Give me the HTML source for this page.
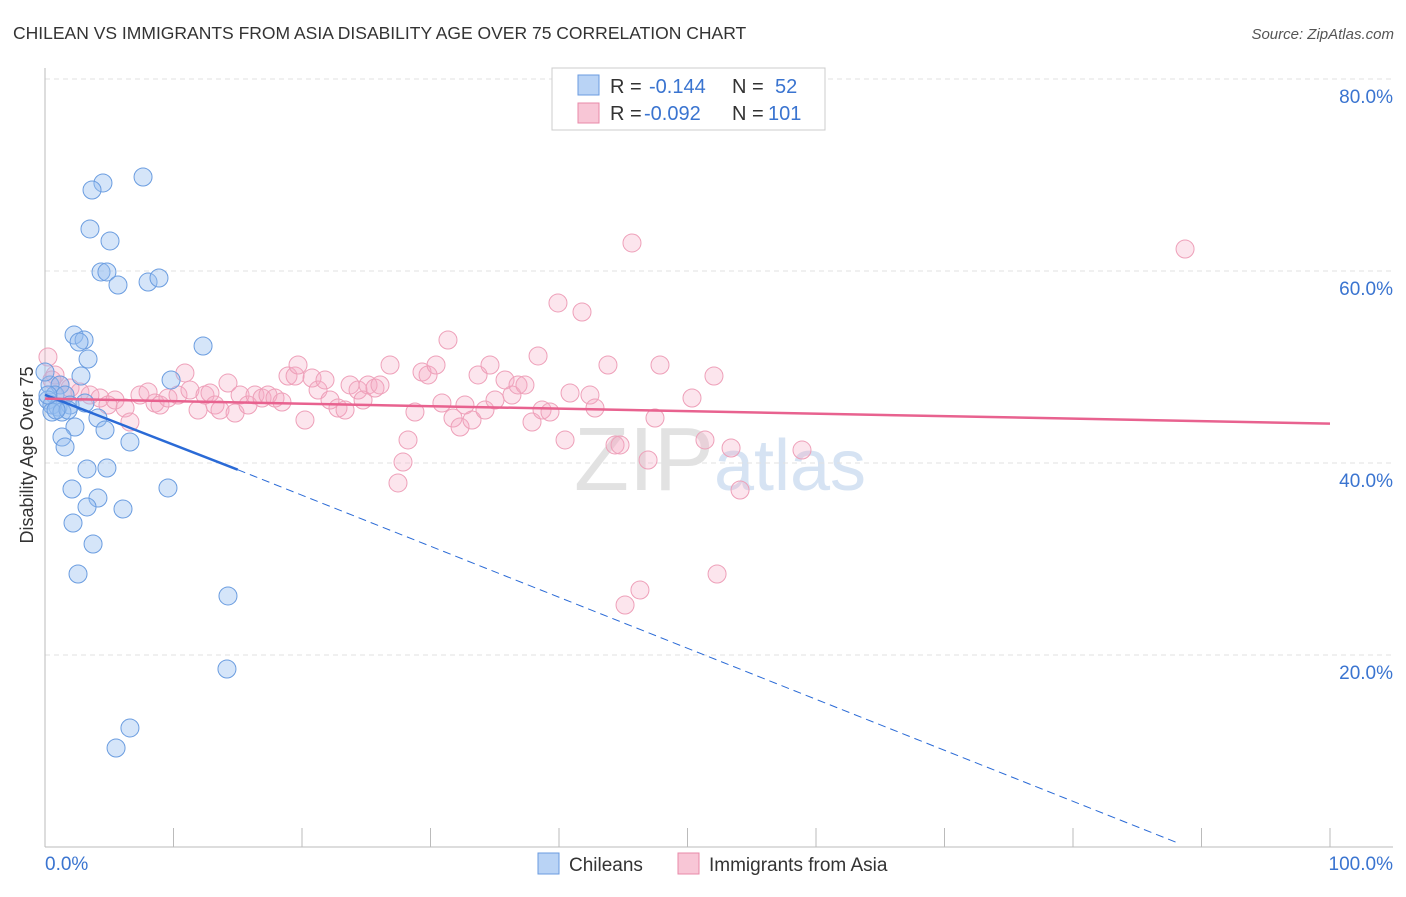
<!DOCTYPE html>
<html><head><meta charset="utf-8"><style>
body{margin:0;background:#fff;font-family:"Liberation Sans",sans-serif;}
svg text{font-family:"Liberation Sans",sans-serif;}
</style></head><body>
<svg id="chart" width="1406" height="892" xmlns="http://www.w3.org/2000/svg">
<text x="13" y="39" font-size="17.5" fill="#333">CHILEAN VS IMMIGRANTS FROM ASIA DISABILITY AGE OVER 75 CORRELATION CHART</text>
<text x="1394" y="39" font-size="15" fill="#555" text-anchor="end" font-style="italic">Source: ZipAtlas.com</text>
<text x="720" y="490" font-size="90" fill="#e2e2e2" text-anchor="middle" font-family="Liberation Serif">ZIP<tspan fill="#d6e3f3" font-family="Liberation Sans" font-size="72">atlas</tspan></text>
<g id="grid"></g>
<g id="axes"></g>
<g id="marks"></g>
<text transform="translate(33,455) rotate(-90)" font-size="18" fill="#333" text-anchor="middle">Disability Age Over 75</text>
<g>
<rect x="552" y="68" width="273" height="62" fill="#fff" stroke="#ccc"/>
<rect x="578" y="75" width="21" height="20" fill="#b9d3f5" stroke="#6a9be0"/>
<rect x="578" y="103" width="21" height="20" fill="#f8c6d6" stroke="#e88aa8"/>
<text x="610" y="93" font-size="20" fill="#333">R =</text>
<text x="649" y="93" font-size="20" fill="#3a74d0">-0.144</text>
<text x="732" y="93" font-size="20" fill="#333">N =</text>
<text x="775" y="93" font-size="20" fill="#3a74d0">52</text>
<text x="610" y="120" font-size="20" fill="#333">R =</text>
<text x="644" y="120" font-size="20" fill="#3a74d0">-0.092</text>
<text x="732" y="120" font-size="20" fill="#333">N =</text>
<text x="768" y="120" font-size="20" fill="#3a74d0">101</text>
</g>
<g>
<rect x="538" y="853" width="21" height="21" fill="#b9d3f5" stroke="#6a9be0"/>
<text x="569" y="871" font-size="19" fill="#333">Chileans</text>
<rect x="678" y="853" width="21" height="21" fill="#f8c6d6" stroke="#e88aa8"/>
<text x="709" y="871" font-size="19" fill="#333">Immigrants from Asia</text>
</g>
</svg>
<script>
const bluePx=[[143,177],[103,183],[92,190],[90,229],[110,241],[101,272],[107,272],[118,285],[148,282],[159,278],[203,346],[74,335],[84,340],[79,342],[88,359],[81,376],[171,380],[50,385],[60,385],[55,395],[65,395],[48,400],[52,405],[58,407],[70,405],[85,403],[52,412],[62,412],[68,410],[98,418],[105,430],[75,427],[62,437],[65,447],[130,442],[87,469],[107,468],[72,489],[98,498],[87,507],[123,509],[168,488],[73,523],[93,544],[78,574],[228,596],[227,669],[130,728],[116,748],[56,410],[48,395],[45,372]];
const pinkPx=[[48,357],[55,375],[60,385],[70,388],[80,392],[90,395],[100,398],[108,405],[115,400],[125,408],[130,422],[140,395],[148,392],[155,403],[160,405],[168,398],[178,395],[185,373],[190,390],[198,410],[205,395],[210,393],[215,405],[220,410],[228,383],[235,413],[240,395],[248,405],[255,395],[262,398],[268,395],[275,398],[282,402],[288,376],[295,376],[298,365],[305,420],[312,378],[318,390],[325,380],[330,400],[338,408],[345,410],[350,385],[358,390],[363,400],[368,385],[375,388],[380,385],[390,365],[398,483],[403,462],[408,440],[415,412],[422,372],[428,375],[436,365],[442,403],[448,340],[453,418],[460,427],[465,405],[472,420],[478,375],[485,410],[490,365],[495,400],[505,380],[512,395],[518,385],[525,385],[532,422],[538,356],[542,410],[550,412],[558,303],[565,440],[570,393],[582,312],[590,395],[595,408],[608,365],[615,445],[620,445],[625,605],[632,243],[640,590],[648,460],[655,418],[660,365],[692,398],[705,440],[714,376],[717,574],[731,448],[740,490],[802,450],[1185,249],[52,380],[65,395]];
const toX=p=>+((p-45)/12.85).toFixed(2), toY=p=>+((847-p)/9.6).toFixed(2);
const blueX=bluePx.map(p=>toX(p[0])), blueY=bluePx.map(p=>toY(p[1]));
const pinkX=pinkPx.map(p=>toX(p[0])), pinkY=pinkPx.map(p=>toY(p[1]));
const yTicks=[20,40,60,80];
const yTickLabels=["20.0%","40.0%","60.0%","80.0%"];
const blueTrend=[[0,47.1],[15,39.3],[88.2,0.4]];
const pinkTrend=[[0,46.7],[100,44.1]];

const NS="http://www.w3.org/2000/svg";
const sx=v=>45+v*12.85, sy=v=>847-v*9.6;
function mk(tag,attrs,parent){const e=document.createElementNS(NS,tag);for(const k in attrs)e.setAttribute(k,attrs[k]);parent.appendChild(e);return e;}
const grid=document.getElementById('grid'), axes=document.getElementById('axes'), marks=document.getElementById('marks');
yTicks.forEach((t,i)=>{
  const l=mk('line',{x1:45,x2:1393,y1:sy(t),y2:sy(t),stroke:'#e2e2e2','stroke-dasharray':'5,4'},grid);
  
  
  const tx=mk('text',{x:1393,y:sy(t)+24,'font-size':19,fill:'#3a74d0','text-anchor':'end'},axes);
  tx.textContent=yTickLabels[i];
  
  
});
let ax=mk('line',{x1:45,x2:45,y1:68,y2:847,stroke:'#bbb'},axes);


ax=mk('line',{x1:45,x2:1393,y1:847,y2:847,stroke:'#bbb'},axes);


for(let i=0;i<=10;i++){
  const t=mk('line',{x1:sx(i*10),x2:sx(i*10),y1:828,y2:847,stroke:'#bbb'},axes);
  
  
}
let xl=mk('text',{x:45,y:870,'font-size':19,fill:'#3a74d0'},axes);xl.textContent='0.0%';


xl=mk('text',{x:1393,y:870,'font-size':19,fill:'#3a74d0','text-anchor':'end'},axes);xl.textContent='100.0%';



pinkX.forEach((x,i)=>{
  const c=mk('circle',{cx:sx(x),cy:sy(pinkY[i]),r:9,fill:'rgba(244,170,195,0.3)',stroke:'#eea0b9','stroke-width':1},marks);
  
  
});
blueX.forEach((x,i)=>{
  const c=mk('circle',{cx:sx(x),cy:sy(blueY[i]),r:9,fill:'rgba(150,190,240,0.4)',stroke:'#6b9de0','stroke-width':1},marks);
  
  
});
let tl=mk('line',{x1:sx(blueTrend[0][0]),y1:sy(blueTrend[0][1]),x2:sx(blueTrend[1][0]),y2:sy(blueTrend[1][1]),stroke:'#2a6ad6','stroke-width':2.5},marks);


tl=mk('line',{x1:sx(blueTrend[1][0]),y1:sy(blueTrend[1][1]),x2:sx(blueTrend[2][0]),y2:sy(blueTrend[2][1]),stroke:'#2a6ad6','stroke-width':1,'stroke-dasharray':'8,5'},marks);


tl=mk('line',{x1:sx(pinkTrend[0][0]),y1:sy(pinkTrend[0][1]),x2:sx(pinkTrend[1][0]),y2:sy(pinkTrend[1][1]),stroke:'#e8628f','stroke-width':2.5},marks);


</script>
</body></html>
